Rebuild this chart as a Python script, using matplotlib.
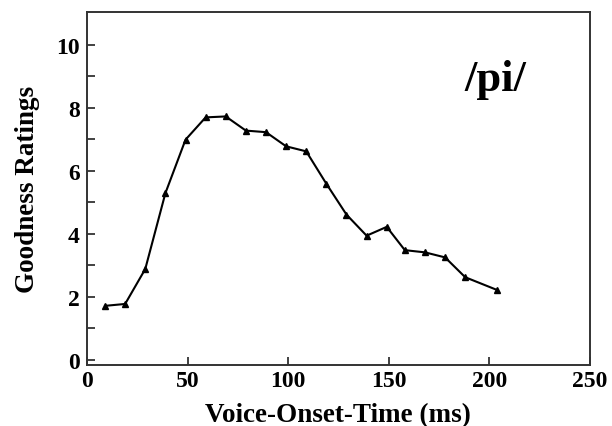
import matplotlib.pyplot as plt
import numpy as np

vot = [9, 19, 29, 39, 49, 59, 69, 79, 89, 99, 109, 119, 129, 139, 149, 158, 168, 178, 188, 204]
rating = [1.71, 1.77, 2.88, 5.29, 6.99, 7.70, 7.73, 7.28, 7.23, 6.78, 6.62, 5.59, 4.61, 3.94,
          4.22, 3.48, 3.41, 3.25, 2.62, 2.21]
xticks = [0, 50, 100, 150, 200, 250]
yticks = [0, 2, 4, 6, 8, 10]

plt.rcParams['font.family'] = 'Liberation Serif'
plt.rcParams['font.weight'] = 'bold'

fig = plt.figure(figsize=(6.12, 4.27), dpi=100)
ax = fig.add_axes([0.142, 0.1436, 0.822, 0.826])

ax.plot(vot, rating, color='black', linewidth=1.5, marker='^', markersize=4.5)

ax.set_xlim(0, 250)
ax.set_ylim(-0.16, 11.05)
ax.set_xticks(xticks)
ax.set_yticks(yticks)
ax.set_yticks(np.arange(1, 11, 2), minor=True)
ax.tick_params(axis='both', which='both', direction='in', length=6, width=1.3,
               labelsize=17, color='#333333')
ax.tick_params(axis='x', pad=4)
ax.tick_params(axis='y', pad=5)
for lab in ax.get_xticklabels() + ax.get_yticklabels():
    lab.set_fontweight('bold')

for s in ax.spines.values():
    s.set_linewidth(1.4)
    s.set_color('#333333')

ax.set_xlabel('Voice-Onset-Time (ms)', fontsize=19.5, fontweight='bold', labelpad=8)
ax.set_ylabel('Goodness Ratings', fontsize=19.5, fontweight='bold', labelpad=12)

ax.text(203, 8.92, '/pi/', fontsize=32, fontweight='bold', ha='center', va='center')

fig.savefig('out.png', dpi=100)
